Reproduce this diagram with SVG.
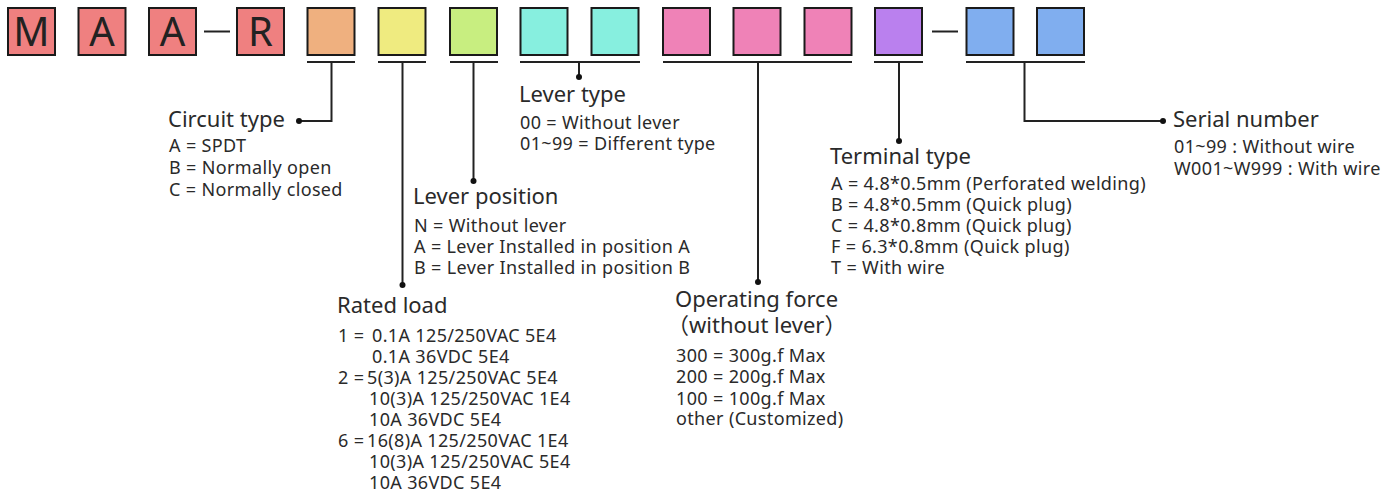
<svg xmlns="http://www.w3.org/2000/svg" width="1400" height="493" viewBox="0 0 1400 493">
<style>
.box{stroke:#1a1a1a;stroke-width:2}
.r{fill:#EF8080}.o{fill:#EFB07F}.y{fill:#EFEB80}.g{fill:#C8EE80}.c{fill:#87EFDF}.p{fill:#EF82B7}.v{fill:#BA80EE}.b{fill:#80AEEF}
.letter{font-family:"Noto Sans","Liberation Sans",sans-serif;font-size:40px;fill:#222;text-anchor:middle}
.ln{stroke:#222;stroke-width:2;fill:none}
.dot{fill:#111}
.t{font-family:"Noto Sans","Noto Sans CJK SC",sans-serif;font-size:22px;fill:#2a2a2a}
.d{font-family:"Noto Sans","Noto Sans CJK SC",sans-serif;font-size:18px;letter-spacing:0.35px;fill:#2a2a2a}
</style>
<g id="boxes">
<g id="box-M"><rect class="box r" x="8" y="8" width="47" height="47"/><text class="letter" x="31.5" y="46">M</text></g>
<g id="box-A1"><rect class="box r" x="78.5" y="8" width="47" height="47"/><text class="letter" x="102" y="46">A</text></g>
<g id="box-A2"><rect class="box r" x="149" y="8" width="47" height="47"/><text class="letter" x="172.5" y="46">A</text></g>
<g id="box-R"><rect class="box r" x="237" y="8" width="47" height="47"/><text class="letter" x="260.5" y="46">R</text></g>
<g id="box-circuit"><rect class="box o" x="307.5" y="8" width="47" height="47"/></g>
<g id="box-load"><rect class="box y" x="378.5" y="8" width="47" height="47"/></g>
<g id="box-leverpos"><rect class="box g" x="450" y="8" width="47" height="47"/></g>
<g id="box-levertype1"><rect class="box c" x="520.5" y="8" width="47" height="47"/></g>
<g id="box-levertype2"><rect class="box c" x="591.5" y="8" width="47" height="47"/></g>
<g id="box-force1"><rect class="box p" x="663" y="8" width="47" height="47"/></g>
<g id="box-force2"><rect class="box p" x="733.5" y="8" width="47" height="47"/></g>
<g id="box-force3"><rect class="box p" x="804.5" y="8" width="47" height="47"/></g>
<g id="box-terminal"><rect class="box v" x="875" y="8" width="47" height="47"/></g>
<g id="box-serial1"><rect class="box b" x="966.5" y="8" width="47" height="47"/></g>
<g id="box-serial2"><rect class="box b" x="1037" y="8" width="47" height="47"/></g>
</g>
<g id="connectors">
<line class="ln" x1="204" y1="31.5" x2="230" y2="31.5"/>
<line class="ln" x1="932" y1="31.5" x2="958" y2="31.5"/>
<line class="ln" x1="307" y1="62" x2="355" y2="62"/>
<line class="ln" x1="378" y1="62" x2="426" y2="62"/>
<line class="ln" x1="450" y1="62" x2="498" y2="62"/>
<line class="ln" x1="520" y1="62" x2="640" y2="62"/>
<line class="ln" x1="663" y1="62" x2="852" y2="62"/>
<line class="ln" x1="874" y1="62" x2="923" y2="62"/>
<line class="ln" x1="966" y1="62" x2="1085" y2="62"/>
<polyline class="ln" points="331.5,62 331.5,121 299,121"/><circle class="dot" cx="299" cy="121" r="3"/>
<line class="ln" x1="402.5" y1="62" x2="402.5" y2="285"/><circle class="dot" cx="402.5" cy="285" r="3"/>
<line class="ln" x1="473.5" y1="62" x2="473.5" y2="181"/><circle class="dot" cx="473.5" cy="181" r="3"/>
<line class="ln" x1="579" y1="62" x2="579" y2="77"/><circle class="dot" cx="579" cy="77" r="3"/>
<line class="ln" x1="758" y1="62" x2="758" y2="282"/><circle class="dot" cx="758" cy="282" r="3"/>
<line class="ln" x1="899" y1="62" x2="899" y2="141"/><circle class="dot" cx="899" cy="141" r="3"/>
<polyline class="ln" points="1024.5,62 1024.5,121 1163,121"/><circle class="dot" cx="1163" cy="121" r="3"/>
</g>
<g id="circuit-type">
<text class="t" x="168" y="127">Circuit type</text>
<text class="d" x="169" y="152">A = SPDT</text>
<text class="d" x="169" y="174">B = Normally open</text>
<text class="d" x="169" y="195.5">C = Normally closed</text>
</g>
<g id="lever-type">
<text class="t" x="519" y="102">Lever type</text>
<text class="d" x="520" y="128.5">00 = Without lever</text>
<text class="d" x="520" y="150">01~99 = Different type</text>
</g>
<g id="lever-position">
<text class="t" x="413" y="204">Lever position</text>
<text class="d" x="414" y="231.5">N = Without lever</text>
<text class="d" x="414" y="252.5">A = Lever Installed in position A</text>
<text class="d" x="414" y="273.5">B = Lever Installed in position B</text>
</g>
<g id="rated-load">
<text class="t" x="337" y="313">Rated load</text>
<text class="d" x="338" y="342">1 = <tspan x="372">0.1A 125/250VAC 5E4</tspan></text>
<text class="d" x="372" y="363">0.1A 36VDC 5E4</text>
<text class="d" x="338" y="384">2 = <tspan x="367">5(3)A 125/250VAC 5E4</tspan></text>
<text class="d" x="369" y="405">10(3)A 125/250VAC 1E4</text>
<text class="d" x="369" y="426">10A 36VDC 5E4</text>
<text class="d" x="338" y="447">6 = <tspan x="367">16(8)A 125/250VAC 1E4</tspan></text>
<text class="d" x="369" y="468">10(3)A 125/250VAC 5E4</text>
<text class="d" x="369" y="489">10A 36VDC 5E4</text>
</g>
<g id="operating-force">
<text class="t" x="675" y="306.5">Operating force</text>
<text class="t" x="667" y="333">（without lever）</text>
<text class="d" x="676" y="361.5">300 = 300g.f Max</text>
<text class="d" x="676" y="383">200 = 200g.f Max</text>
<text class="d" x="676" y="404.5">100 = 100g.f Max</text>
<text class="d" x="676" y="425">other (Customized)</text>
</g>
<g id="terminal-type">
<text class="t" x="830" y="163.5">Terminal type</text>
<text class="d" x="831" y="190">A = 4.8*0.5mm (Perforated welding)</text>
<text class="d" x="831" y="211">B = 4.8*0.5mm (Quick plug)</text>
<text class="d" x="831" y="232">C = 4.8*0.8mm (Quick plug)</text>
<text class="d" x="831" y="253">F = 6.3*0.8mm (Quick plug)</text>
<text class="d" x="831" y="274">T = With wire</text>
</g>
<g id="serial-number">
<text class="t" x="1173" y="127">Serial number</text>
<text class="d" x="1174" y="153">01~99 : Without wire</text>
<text class="d" x="1174" y="175">W001~W999 : With wire</text>
</g>
</svg>
